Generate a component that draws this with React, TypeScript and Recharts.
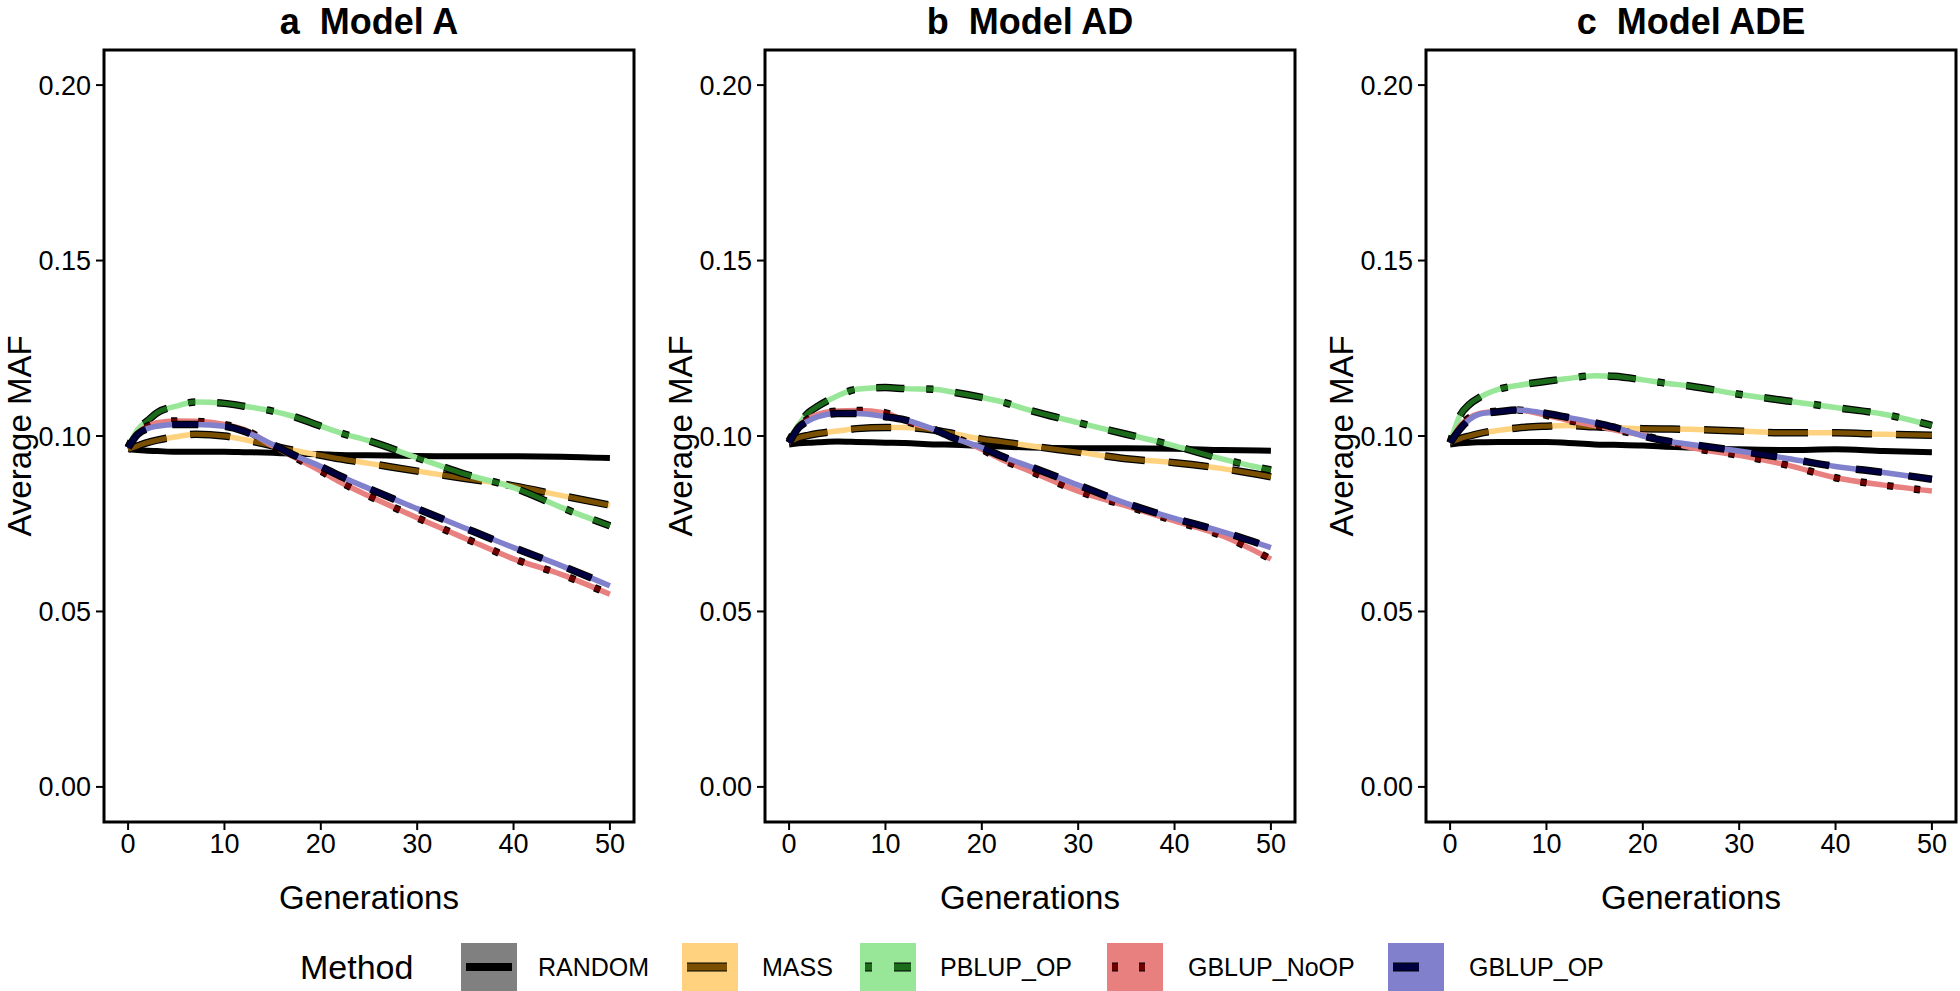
import { LineChart, Line, XAxis, YAxis, ReferenceArea, Label } from "recharts"

const FONT = "'Liberation Sans', Arial, Helvetica, sans-serif"

// generations sampled from the curves
const GENS = [0, 1, 2, 3, 5, 7, 10, 12, 15, 17, 20, 22, 25, 30, 35, 40, 45, 50]

const METHODS = ["RANDOM", "MASS", "PBLUP_OP", "GBLUP_NoOP", "GBLUP_OP"]

const X_TICKS = [0, 10, 20, 30, 40, 50]
const Y_TICKS = [0, 0.05, 0.1, 0.15, 0.2]

// a  Model A
const A_RANDOM = [0.0962, 0.096, 0.0958, 0.0957, 0.0955, 0.0955, 0.0955, 0.0954, 0.0952, 0.095, 0.0948, 0.0946, 0.0945, 0.0943, 0.0942, 0.0942, 0.0941, 0.0937]
const A_MASS = [0.0962, 0.0972, 0.0981, 0.0988, 0.0998, 0.1005, 0.1, 0.099, 0.0972, 0.096, 0.0945, 0.0935, 0.0922, 0.09, 0.0879, 0.0858, 0.083, 0.0803]
const A_PBLUP_OP = [0.0967, 0.1019, 0.1043, 0.1066, 0.1085, 0.1097, 0.1093, 0.1085, 0.1071, 0.1057, 0.1028, 0.1009, 0.0986, 0.0938, 0.0891, 0.0853, 0.0796, 0.0744]
const A_GBLUP_NoOP = [0.0967, 0.1009, 0.1028, 0.1038, 0.1043, 0.1042, 0.1033, 0.1019, 0.0972, 0.0943, 0.09, 0.0869, 0.0829, 0.0767, 0.0708, 0.065, 0.0605, 0.0549]
const A_GBLUP_OP = [0.0967, 0.1005, 0.1021, 0.1028, 0.1033, 0.1033, 0.1028, 0.1014, 0.0976, 0.0948, 0.0913, 0.0886, 0.085, 0.0793, 0.0737, 0.0682, 0.063, 0.0573]

// b  Model AD
const B_RANDOM = [0.0976, 0.0979, 0.0981, 0.0982, 0.0984, 0.0983, 0.0981, 0.098, 0.0976, 0.0975, 0.0972, 0.097, 0.0967, 0.0965, 0.0965, 0.0964, 0.096, 0.0958]
const B_MASS = [0.0981, 0.0995, 0.1002, 0.1007, 0.1014, 0.1021, 0.1024, 0.1024, 0.1017, 0.1007, 0.0991, 0.0984, 0.0972, 0.0954, 0.0935, 0.0924, 0.0907, 0.0884]
const B_PBLUP_OP = [0.0986, 0.1033, 0.1066, 0.1085, 0.1114, 0.1133, 0.1138, 0.1135, 0.1133, 0.1125, 0.111, 0.1098, 0.1073, 0.1038, 0.1005, 0.0972, 0.0934, 0.0903]
const B_GBLUP_NoOP = [0.0981, 0.1028, 0.1049, 0.1062, 0.1071, 0.1073, 0.1066, 0.1043, 0.1019, 0.0998, 0.0962, 0.0934, 0.09, 0.0843, 0.0801, 0.0758, 0.0715, 0.0649]
const B_GBLUP_OP = [0.0981, 0.1024, 0.1043, 0.1055, 0.1064, 0.1064, 0.1055, 0.1046, 0.1019, 0.0995, 0.0967, 0.0943, 0.0913, 0.086, 0.0808, 0.0765, 0.0727, 0.0682]

// c  Model ADE
const C_RANDOM = [0.0976, 0.0979, 0.0981, 0.0982, 0.0983, 0.0983, 0.0983, 0.0981, 0.0976, 0.0975, 0.0973, 0.097, 0.0967, 0.0962, 0.096, 0.0962, 0.0957, 0.0954]
const C_MASS = [0.0981, 0.0992, 0.1, 0.1007, 0.1016, 0.1023, 0.1028, 0.103, 0.1026, 0.1024, 0.1021, 0.102, 0.1019, 0.1014, 0.1009, 0.1009, 0.1005, 0.1002]
const C_PBLUP_OP = [0.0981, 0.1057, 0.109, 0.1109, 0.1133, 0.1144, 0.1156, 0.1163, 0.1172, 0.117, 0.116, 0.1152, 0.1142, 0.1119, 0.11, 0.1081, 0.1062, 0.103]
const C_GBLUP_NoOP = [0.0981, 0.1028, 0.1052, 0.1064, 0.1071, 0.1074, 0.1059, 0.1046, 0.103, 0.1018, 0.1002, 0.0988, 0.0967, 0.0945, 0.0917, 0.0881, 0.086, 0.0843]
const C_GBLUP_OP = [0.0981, 0.1019, 0.1047, 0.1062, 0.1069, 0.1074, 0.1064, 0.1054, 0.1038, 0.1025, 0.1, 0.0988, 0.0976, 0.0957, 0.0936, 0.0913, 0.0896, 0.0877]

const toRows = (series: number[][]) =>
  GENS.map((gen, i) => {
    const row: Record<string, number> = { gen }
    METHODS.forEach((m, j) => (row[m] = series[j][i]))
    return row
  })

const PANELS = [
  { letter: "a", title: "Model A", left: 0, data: toRows([A_RANDOM, A_MASS, A_PBLUP_OP, A_GBLUP_NoOP, A_GBLUP_OP]) },
  { letter: "b", title: "Model AD", left: 661, data: toRows([B_RANDOM, B_MASS, B_PBLUP_OP, B_GBLUP_NoOP, B_GBLUP_OP]) },
  { letter: "c", title: "Model ADE", left: 1322, data: toRows([C_RANDOM, C_MASS, C_PBLUP_OP, C_GBLUP_NoOP, C_GBLUP_OP]) },
]

const STYLE: Record<string, { light: string; dark: string; dash?: string }> = {
  RANDOM: { light: "#808080", dark: "#000000" },
  MASS: { light: "#ffd27f", dark: "#7a5000", dash: "40 24" },
  PBLUP_OP: { light: "#98e698", dark: "#1b6b1b", dash: "7 22 28 22" },
  GBLUP_NoOP: { light: "#e88080", dark: "#6e0000", dash: "6 21" },
  GBLUP_OP: { light: "#8080cc", dark: "#000040", dash: "26 27" },
}

const YTitle = (props: any) => {
  const vb = props.viewBox || { x: 0, y: 50, height: 772 }
  const cx = vb.x + 19
  const cy = vb.y + vb.height / 2
  return (
    <text x={cx} y={cy} transform={`rotate(-90 ${cx} ${cy})`} textAnchor="middle" dominantBaseline="central"
      fontSize={33} fontFamily={FONT} fill="#000">
      Average MAF
    </text>
  )
}

const XTitle = (props: any) => {
  const vb = props.viewBox || { x: 104, y: 822, width: 530 }
  return (
    <text x={vb.x + vb.width / 2} y={vb.y + 75} textAnchor="middle" dominantBaseline="central"
      fontSize={33} fontFamily={FONT} fill="#000">
      Generations
    </text>
  )
}

function seriesLines(m: string) {
  const s = STYLE[m]
  const common = { type: "monotone" as const, dataKey: m, dot: false, activeDot: false, isAnimationActive: false, legendType: "none" as const }
  if (!s.dash) {
    return [<Line key={m} {...common} stroke="#000" strokeWidth={6} />]
  }
  return [
    <Line key={m + "-base"} {...common} stroke={s.light} strokeWidth={5.5} />,
    <Line key={m + "-edge"} {...common} stroke="#000" strokeWidth={7.5} strokeDasharray={s.dash} />,
    <Line key={m + "-dash"} {...common} stroke={s.dark} strokeWidth={5} strokeDasharray={s.dash} />,
  ]
}

function Panel({ letter, title, left, data }: { letter: string; title: string; left: number; data: any[] }) {
  return (
    <div style={{ position: "absolute", left, top: 0 }}>
      <div style={{ position: "absolute", left: 104, width: 530, top: 0, height: 44, display: "flex", alignItems: "center", justifyContent: "center",
        fontFamily: FONT, fontWeight: "bold", fontSize: 36, color: "#000", whiteSpace: "pre" }}>
        {letter + "  " + title}
      </div>
      <LineChart width={636} height={991} data={data} margin={{ top: 50, right: 2, bottom: 69, left: 0 }}>
        <XAxis type="number" dataKey="gen" domain={[-2.5, 52.5]} ticks={X_TICKS} interval={0} allowDataOverflow
          height={100} axisLine={false} tickSize={8} tickMargin={4}
          tickLine={{ stroke: "#000", strokeWidth: 2 }}
          tick={{ fontSize: 27, fill: "#000", fontFamily: FONT }}>
          <Label content={XTitle} />
        </XAxis>
        <YAxis type="number" domain={[-0.01, 0.21]} ticks={Y_TICKS} interval={0} allowDataOverflow
          width={104} axisLine={false} tickSize={8} tickMargin={5}
          tickLine={{ stroke: "#000", strokeWidth: 2 }}
          tickFormatter={(v: number) => v.toFixed(2)}
          tick={{ fontSize: 27, fill: "#000", fontFamily: FONT }}>
          <Label content={YTitle} />
        </YAxis>
        {METHODS.flatMap(seriesLines)}
        <ReferenceArea x1={-2.5} x2={52.5} y1={-0.01} y2={0.21} fill="none" fillOpacity={0} stroke="#000" strokeWidth={3} ifOverflow="visible" />
      </LineChart>
    </div>
  )
}

const LEGEND_KEYS = [
  { m: "RANDOM", key: 461, text: 538 },
  { m: "MASS", key: 682, text: 762 },
  { m: "PBLUP_OP", key: 860, text: 940 },
  { m: "GBLUP_NoOP", key: 1107, text: 1188 },
  { m: "GBLUP_OP", key: 1388, text: 1469 },
]

function KeyGlyph({ m }: { m: string }) {
  const s = STYLE[m]
  return (
    <svg width={56} height={48}>
      <rect x={0} y={0} width={56} height={48} fill={s.light} />
      {s.dash ? (
        <>
          <line x1={5} x2={51} y1={24} y2={24} stroke="#000" strokeWidth={9} strokeDasharray={s.dash} />
          <line x1={5} x2={51} y1={24} y2={24} stroke={s.dark} strokeWidth={7} strokeDasharray={s.dash} />
        </>
      ) : (
        <line x1={5} x2={51} y1={24} y2={24} stroke="#000" strokeWidth={8} />
      )}
    </svg>
  )
}

export default function App() {
  return (
    <div style={{ position: "absolute", left: 0, top: 0, width: 1960, height: 991, background: "#fff", overflow: "hidden" }}>
      {PANELS.map((p) => (
        <Panel key={p.letter} {...p} />
      ))}
      <div style={{ position: "absolute", left: 300, top: 943, height: 48, display: "flex", alignItems: "center",
        fontFamily: FONT, fontSize: 34, color: "#000" }}>
        Method
      </div>
      {LEGEND_KEYS.map((k) => (
        <div key={k.m}>
          <div style={{ position: "absolute", left: k.key, top: 943 }}>
            <KeyGlyph m={k.m} />
          </div>
          <div style={{ position: "absolute", left: k.text, top: 943, height: 48, display: "flex", alignItems: "center",
            fontFamily: FONT, fontSize: 25, color: "#000" }}>
            {k.m}
          </div>
        </div>
      ))}
    </div>
  )
}
